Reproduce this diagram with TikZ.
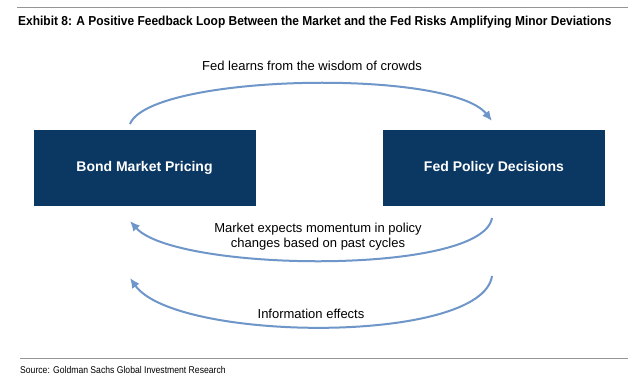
\documentclass[tikz,border=0pt]{standalone}
\usepackage{fontspec}
\setmainfont{Liberation Sans}
\newfontfamily\condfont[FakeStretch=0.92]{Liberation Sans}
\newfontfamily\srcfont[FakeStretch=0.88]{Liberation Sans}
\usetikzlibrary{arrows.meta}
\definecolor{navy}{HTML}{0B3763}
\definecolor{arrowblue}{HTML}{6E96C8}
\definecolor{rulegrey}{HTML}{959595}
\tikzset{
  fbox/.style={fill=navy, minimum width=222pt, minimum height=76pt, inner sep=0pt,
    text=white, font=\fontsize{14}{16}\selectfont\bfseries},
  flow/.style={draw=arrowblue, line width=2pt, -{Latex[length=10pt,width=9pt]}},
  lbl/.style={font=\fontsize{13}{15}\selectfont, align=center, inner sep=0pt},
}
\begin{document}
\begin{tikzpicture}[x=1pt,y=-1pt]
\fill[white] (0,0) rectangle (640,384);
\draw[rulegrey, line width=1.5pt] (17,7.5) -- (628,7.5);
\node[anchor=west, inner sep=0pt, font=\condfont\fontsize{13}{15}\selectfont\bfseries] (title) at (18,22)
  {Exhibit 8: A Positive Feedback Loop Between the Market and the Fed Risks Amplifying Minor Deviations};
\node[fbox] (bond) at (144.5,168) {\raisebox{-2.5pt}{Bond Market Pricing}};
\node[fbox] (fed) at (494,168) {\raisebox{-2.5pt}{Fed Policy Decisions}};
\coordinate (t1) at (130,124);
\coordinate (t2) at (492,121);
\draw[flow] (t1) .. controls (150,74) and (450,68) .. (t2);
\node[lbl] (l1) at (312,66) {Fed learns from the wisdom of crowds};
\coordinate (m1) at (492,218);
\coordinate (m2) at (130,221);
\draw[flow] (m1) .. controls (482,276) and (175,272) .. (m2);
\node[lbl] (l2) at (318,237) {Market expects momentum in policy\\changes based on past cycles};
\coordinate (b1) at (492,276);
\coordinate (b2) at (130,278);
\draw[flow] (b1) .. controls (482,345) and (175,342) .. (b2);
\node[lbl] (l3) at (311,314) {Information effects};
\draw[rulegrey, line width=1pt] (20,358) -- (628,358);
\node[anchor=west, inner sep=0pt, font=\srcfont\fontsize{9.8}{12}\selectfont] (src) at (20,370)
  {Source: Goldman Sachs Global Investment Research};
\end{tikzpicture}
\end{document}
